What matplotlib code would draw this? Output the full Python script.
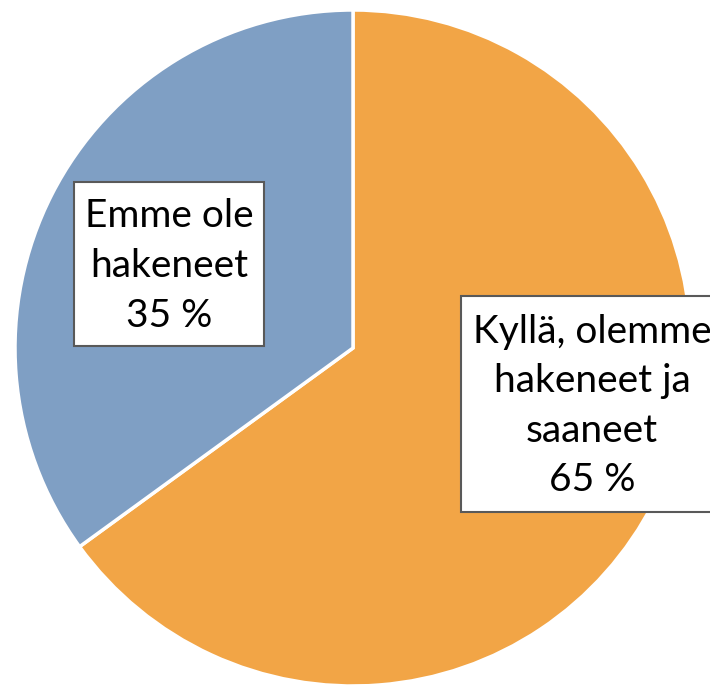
import matplotlib.pyplot as plt
from matplotlib.patches import Rectangle

labels = ['Kyllä, olemme\nhakeneet ja\nsaaneet', 'Emme ole\nhakeneet']
shares = [65, 35]
colors = ['#F2A546', '#7F9FC4']

W, H = 710, 686
fig = plt.figure(figsize=(W / 100, H / 100), dpi=100)
ax = fig.add_axes([0, 0, 1, 1])

ax.pie(shares, colors=colors, startangle=90, counterclock=False,
       radius=1, center=(0, 0),
       wedgeprops=dict(edgecolor='white', linewidth=2.5))

# centre at (353, 348) px from top-left, radius 338 px
cx, cy, r = 353, 348, 338
ax.set_xlim(-cx / r, (W - cx) / r)
ax.set_ylim(-(H - cy) / r, cy / r)
ax.set_aspect('equal')
ax.axis('off')


def fx(x):
    return x / W


def fy(y):
    return 1 - y / H


# label boxes (pixel positions from top-left)
boxes = [(461, 296, 262, 216, 592, 406), (74, 182, 190, 164, 169, 266)]
for (bx, by, bw, bh, tx, ty), lab, val in zip(boxes, labels, shares):
    fig.patches.append(Rectangle((fx(bx), fy(by + bh)), bw / W, bh / H,
                                 transform=fig.transFigure, facecolor='white',
                                 edgecolor='#595959', linewidth=1.5, zorder=3))
    fig.text(fx(tx), fy(ty), f'{lab}\n{val} %', ha='center', va='center',
             fontsize=28, family='Lato', linespacing=1.47, zorder=4)

fig.savefig('out.png', dpi=100)
